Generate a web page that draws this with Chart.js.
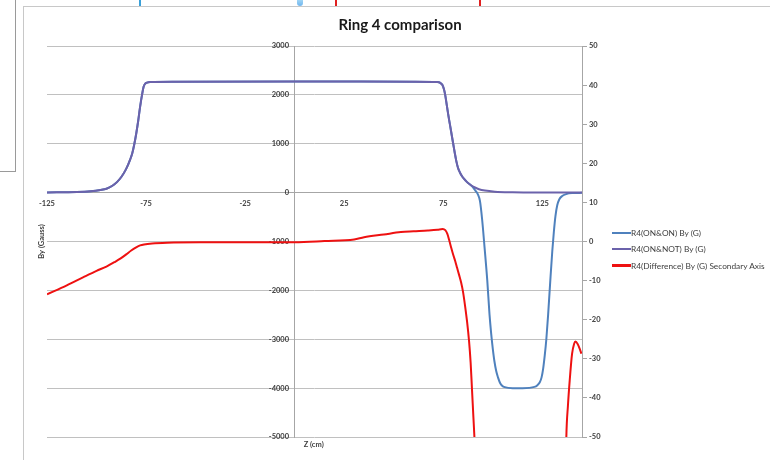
<!DOCTYPE html>
<html>
<head>
<meta charset="utf-8">
<script src="https://cdn.jsdelivr.net/npm/chart.js@4.4.0/dist/chart.umd.min.js"></script>
<style>
  html, body { margin: 0; padding: 0; background: #fff; }
  body { width: 770px; height: 460px; position: relative; overflow: hidden; font-family: Lato, "Open Sans", sans-serif; }
  #frame { position: absolute; left: 23px; top: 6px; width: 760px; height: 470px; border-left: 1px solid #c8c8c8; border-top: 1px solid #c8c8c8; }
  #leftbox { position: absolute; left: -2px; top: -2px; width: 16px; height: 172px; border: 1px solid #9a9a9a; }
  .art { position: absolute; top: 0; height: 6px; }
  #wrap { position: absolute; left: 0; top: 0; width: 770px; height: 460px; }
  #legend { position: absolute; left: 612px; top: 225px; font: 8.3px Lato, sans-serif; color: #404040; }
  .row { height: 16.3px; display: flex; align-items: center; white-space: nowrap; }
  .sw { display: inline-block; width: 19px; height: 2px; margin-right: 0px; }
</style>
</head>
<body>
<div id="leftbox"></div>
<div class="art" style="left:139px;width:2px;background:#3aa0d8;"></div>
<div class="art" style="left:297px;width:6px;background:linear-gradient(#9fd4f5,#6fb5ee);border-radius:0 0 3px 3px;"></div>
<div class="art" style="left:335px;width:2px;background:#e02020;"></div>
<div class="art" style="left:479px;width:2px;background:#e02020;"></div>
<div id="frame"></div>
<div id="wrap"><canvas id="c" width="770" height="460"></canvas></div>
<div id="legend"></div>
<script>
// ---- data ----
const zOnNot = [-125,-110,-103,-98,-95,-92,-89.7,-87.5,-85.5,-84,-83,-82,-81,-80,-79,-78,-77,-76.2,-75.5,-74.5,-73,-60,0,60,72,73.5,74.5,75.3,76,76.8,77.6,78.4,79.2,80,80.8,81.6,82.4,83.3,84.3,85.5,87,89,91,93,96,101,110,125,145];
const byOnNot = [5,15,30,55,80,140,215,320,450,580,680,800,980,1200,1460,1760,2010,2170,2225,2250,2262,2270,2275,2270,2265,2245,2205,2120,1990,1780,1570,1380,1190,1000,810,640,510,420,345,280,215,150,105,70,42,20,8,3,2];

const zOnOn = [-125,-110,-103,-98,-95,-92,-89.7,-87.5,-85.5,-84,-83,-82,-81,-80,-79,-78,-77,-76.2,-75.5,-74.5,-73,-60,0,60,72,73.5,74.5,75.3,76,76.8,77.6,78.4,79.2,80,80.8,81.6,82.4,83.3,84.3,85.5,87,88.5,90,91.2,92.5,93.5,94.6,95.8,97.2,98.3,99.2,100,100.8,101.7,102.6,103.6,104.7,106,110,115,121,122.5,123.7,124.6,125.4,126.2,127,127.9,129,130,130.8,131.6,132.5,133.5,135,137,140,145];
const byOnOn = [5,15,30,55,80,140,215,320,450,580,680,800,980,1200,1460,1760,2010,2170,2225,2250,2262,2270,2275,2270,2265,2245,2205,2120,1990,1780,1570,1380,1190,1000,810,640,510,420,345,280,215,165,110,40,-40,-170,-550,-1110,-1800,-2480,-2900,-3200,-3450,-3650,-3780,-3890,-3950,-3980,-4000,-4000,-3975,-3940,-3880,-3780,-3600,-3330,-3000,-2500,-1800,-1200,-800,-480,-260,-140,-70,-30,-10,-5];

const zDiff = [-125,-115,-106.6,-100,-95,-91,-88,-85,-82.5,-80,-78,-76,-72,-64.4,-47.6,-20,0,15,30,35,45,53.6,60,67.2,72,74.7,76,77,78,79,80,81,82,83,84,85,86,87,88,88.8,89.5,90.2,90.7,91.3,92,136.3,137.1,137.9,138.8,140,141,141.7,142.8,143.9,144.7];
const diffPct = [-13.5,-11.2,-9.1,-7.5,-6.4,-5.3,-4.4,-3.3,-2.3,-1.5,-1.0,-0.75,-0.5,-0.3,-0.2,-0.2,-0.2,0.1,0.5,1.1,1.8,2.4,2.6,2.8,3.0,3.2,2.9,2.0,0.3,-1.6,-3.4,-5.0,-6.8,-8.6,-10.5,-13,-16.5,-20.5,-25.5,-31,-38,-45,-50,-58,-70,-75,-50,-42,-35.5,-28.7,-26.2,-25.6,-26.2,-27.5,-28.7];

const xTickValues = [-125,-75,-25,25,75,125];
const seriesLabels = ['R4(ON&ON) By (G)','R4(ON&NOT) By (G)','R4(Difference) By (G) Secondary Axis'];
const seriesColors = ['#4f81bd','#6b62ab','#ee1111'];

const pairs = (xs, ys) => xs.map((x, i) => ({x: x, y: ys[i]}));

const tickFont = {family: 'Lato, sans-serif', size: 7.5, weight: 'bold'};
const tickColor = '#404040';

const textPlugin = {
  id: 'texts',
  afterDraw(chart) {
    const ctx = chart.ctx, ca = chart.chartArea;
    ctx.save();
    ctx.fillStyle = '#1a1a1a';
    ctx.font = 'bold 15px Lato, sans-serif';
    ctx.textAlign = 'center';
    ctx.textBaseline = 'middle';
    ctx.fillText('Ring 4 comparison', 400, 25);
    ctx.fillStyle = '#404040';
    ctx.font = 'bold 7.5px Lato, sans-serif';
    ctx.fillText('Z (cm)', chart.scales.x.getPixelForValue(0) + 19, ca.bottom + 8);
    ctx.translate(ca.left - 5, (ca.top + ca.bottom) / 2);
    ctx.rotate(-Math.PI / 2);
    ctx.fillText('By (Gauss)', 0, 0);
    ctx.restore();
  }
};

const chart = new Chart(document.getElementById('c'), {
  type: 'line',
  data: {
    datasets: [
      {label: seriesLabels[0], data: pairs(zOnOn, byOnOn), borderColor: seriesColors[0], yAxisID: 'y', order: 3},
      {label: seriesLabels[1], data: pairs(zOnNot, byOnNot), borderColor: seriesColors[1], yAxisID: 'y', order: 2},
      {label: seriesLabels[2], data: pairs(zDiff, diffPct), borderColor: seriesColors[2], yAxisID: 'y2', order: 1}
    ]
  },
  options: {
    responsive: false,
    animation: false,
    elements: {
      point: {radius: 0, hoverRadius: 0},
      line: {borderWidth: 2, cubicInterpolationMode: 'monotone', fill: false}
    },
    layout: {padding: {left: 47, top: 46, bottom: 23, right: 0}},
    plugins: {legend: {display: false}, title: {display: false}, tooltip: {enabled: false}},
    scales: {
      x: {
        type: 'linear', min: -125, max: 145,
        position: {y: 0},
        afterBuildTicks: s => { s.ticks = xTickValues.map(v => ({value: v})); },
        grid: {drawOnChartArea: false, drawTicks: false},
        border: {display: true, color: '#a6a6a6'},
        ticks: {font: tickFont, color: tickColor, padding: 6, autoSkip: false, maxRotation: 0, callback: v => String(v)}
      },
      y: {
        type: 'linear', min: -5000, max: 3000,
        position: {x: 0},
        grid: {color: '#c0c0c0', tickLength: 4},
        border: {display: true, color: '#a6a6a6'},
        ticks: {stepSize: 1000, font: tickFont, color: tickColor, padding: 4, callback: v => String(v) + '\u2003'}
      },
      y2: {
        type: 'linear', min: -50, max: 50,
        position: 'right',
        afterFit: s => { s.width = 188; },
        grid: {drawOnChartArea: false, tickLength: 5, color: '#a6a6a6'},
        border: {display: true, color: '#a6a6a6'},
        ticks: {stepSize: 10, font: tickFont, color: tickColor, padding: 2, callback: v => String(v)}
      }
    }
  },
  plugins: [textPlugin]
});

// legend (HTML)
const lg = document.getElementById('legend');
seriesLabels.forEach((lab, i) => {
  const r = document.createElement('div');
  r.className = 'row';
  const sw = document.createElement('span');
  sw.className = 'sw';
  sw.style.background = seriesColors[i];
  if (i === 2) sw.style.height = '2.5px';
  const t = document.createElement('span');
  t.textContent = lab;
  r.appendChild(sw); r.appendChild(t);
  lg.appendChild(r);
});
</script>
</body>
</html>
